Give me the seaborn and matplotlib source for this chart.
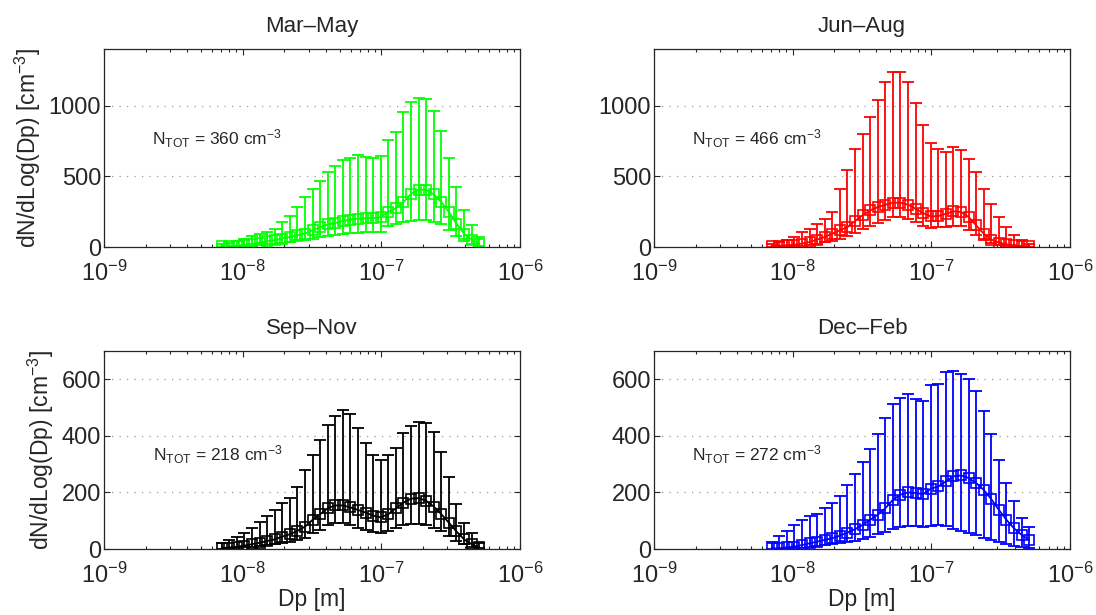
import numpy as np
import pandas as pd
import seaborn as sns
import matplotlib.pyplot as plt
from matplotlib.ticker import LogLocator, FixedLocator, NullFormatter

# particle diameter bins (nm)
dp_nm = [7.06, 8.01, 9.08, 10.29, 11.67, 13.24, 15.01, 17.02, 19.30, 21.89,
         24.82, 28.15, 31.92, 36.20, 41.05, 46.55, 52.79, 59.86, 67.88, 76.98,
         87.30, 99.00, 112.3, 127.3, 144.4, 163.7, 185.7, 210.6, 238.8, 270.8,
         307.1, 348.2, 394.9, 447.8, 507.8]

seasons = ["Mar–May", "Jun–Aug", "Sep–Nov", "Dec–Feb"]
colors = ["#00ff00", "#ff0000", "#000000", "#0000ff"]
ntot = [360, 466, 218, 272]

mam_mean = [5, 7, 10, 15, 22, 30, 40, 48, 60, 70, 82, 95, 118, 140, 160, 170, 185, 193, 200, 205,
            205, 212, 247, 275, 318, 376, 405, 405, 372, 318, 247, 165, 94, 52, 24]
mam_upper = [19, 28, 42, 54, 75, 94, 106, 129, 176, 219, 282, 353, 407, 464, 529, 576, 612, 631, 647, 635,
             628, 640, 758, 812, 953, 1024, 1054, 1047, 965, 819, 631, 424, 259, 153, 70]
mam_lower = [2, 3, 5, 7, 10, 14, 19, 23, 29, 34, 40, 47, 58, 70, 80, 85, 92, 97, 100, 103,
             103, 106, 150, 165, 175, 185, 190, 190, 178, 160, 120, 75, 40, 20, 8]

jja_mean = [7, 9, 12, 16, 24, 35, 52, 71, 94, 118, 141, 184, 224, 259, 282, 299, 313, 313, 299, 271,
            240, 216, 219, 235, 252, 247, 212, 153, 94, 52, 31, 19, 12, 7, 5]
jja_upper = [24, 35, 47, 70, 106, 130, 160, 200, 247, 412, 546, 694, 800, 918, 1040, 1165, 1240, 1235, 1165, 1016,
             866, 736, 694, 671, 706, 689, 624, 529, 412, 306, 212, 141, 82, 47, 24]
jja_lower = [2, 3, 5, 7, 10, 15, 22, 32, 45, 60, 75, 100, 125, 150, 170, 190, 212, 212, 200, 175,
             150, 135, 140, 141, 150, 145, 120, 85, 50, 25, 12, 6, 3, 2, 1]

son_mean = [2, 5, 8, 12, 17, 22, 28, 34, 44, 52, 64, 79, 103, 123, 144, 154, 154, 147, 138, 129,
            118, 112, 123, 144, 164, 178, 180, 170, 150, 123, 93, 62, 34, 17, 6]
son_upper = [22, 32, 44, 58, 73, 97, 117, 138, 162, 180, 219, 278, 334, 387, 440, 470, 491, 479, 428, 375,
             334, 316, 334, 357, 411, 434, 449, 444, 413, 343, 254, 159, 93, 56, 20]
son_lower = [1, 2, 4, 6, 8, 11, 14, 17, 22, 26, 32, 40, 55, 68, 85, 91, 91, 85, 75, 68,
             60, 58, 62, 75, 85, 89, 89, 85, 75, 62, 45, 30, 16, 8, 3]

djf_mean = [2, 2, 6, 8, 14, 20, 26, 32, 38, 47, 58, 70, 85, 103, 121, 144, 174, 192, 200, 198,
            194, 213, 221, 239, 257, 260, 251, 233, 209, 176, 138, 103, 73, 50, 32]
djf_upper = [25, 47, 65, 85, 101, 117, 124, 144, 162, 188, 227, 266, 307, 355, 405, 462, 512, 533, 547, 531,
             525, 580, 582, 624, 630, 618, 600, 559, 488, 408, 314, 233, 168, 109, 77]
djf_lower = [0, 0, 2, 3, 5, 8, 10, 13, 16, 20, 25, 30, 36, 44, 52, 60, 70, 78, 80, 80,
             78, 82, 85, 80, 72, 62, 55, 48, 40, 32, 25, 18, 12, 8, 5]

means = [mam_mean, jja_mean, son_mean, djf_mean]
uppers = [mam_upper, jja_upper, son_upper, djf_upper]
lowers = [mam_lower, jja_lower, son_lower, djf_lower]

sns.set_style("ticks")
plt.rcParams["font.family"] = ["Liberation Sans", "DejaVu Sans"]
plt.rcParams["mathtext.default"] = "regular"

fig = plt.figure(figsize=(10.96, 6.15), dpi=100)
lefts = [104 / 1096, 654 / 1096]
bottoms = [1 - 247 / 615, 1 - 549 / 615]
w, h = 416 / 1096, 198 / 615
text_x = [0.115, 0.091, 0.118, 0.091]

for k in range(4):
    row, col = k // 2, k % 2
    ax = fig.add_axes([lefts[col], bottoms[row], w, h])
    ax.set_xscale("log")
    c = colors[k]
    df = pd.DataFrame({"Dp": np.array(dp_nm) * 1e-9, "mean": means[k],
                       "upper": uppers[k], "lower": lowers[k]})
    ax.errorbar(df["Dp"], df["mean"],
                yerr=[df["mean"] - df["lower"], df["upper"] - df["mean"]],
                fmt="none", ecolor=c, elinewidth=1.3, capsize=4.5, capthick=1.3)
    sns.lineplot(data=df, x="Dp", y="mean", ax=ax, color=c, linewidth=1.3,
                 marker="s", markersize=7, markerfacecolor="none",
                 markeredgecolor=c, markeredgewidth=1.2)

    ax.set_xlim(1e-9, 1e-6)
    if row == 0:
        ax.set_ylim(0, 1400)
        ax.yaxis.set_major_locator(FixedLocator([0, 500, 1000]))
        ty = 0.545
    else:
        ax.set_ylim(0, 700)
        ax.yaxis.set_major_locator(FixedLocator([0, 200, 400, 600]))
        ty = 0.475
    ax.xaxis.set_major_locator(FixedLocator([1e-9, 1e-8, 1e-7, 1e-6]))
    ax.xaxis.set_minor_locator(LogLocator(base=10, subs=np.arange(2, 10), numticks=20))
    ax.xaxis.set_minor_formatter(NullFormatter())
    ax.yaxis.grid(True, linestyle=(0, (1, 5)), color="0.6", linewidth=0.9)
    ax.xaxis.grid(False)
    ax.tick_params(which="both", direction="in", top=True, right=True,
                   labelsize=17, width=0.8)
    ax.tick_params(axis="x", which="major", pad=10)
    ax.tick_params(axis="y", which="major", pad=2)
    ax.tick_params(which="major", length=4)
    ax.tick_params(which="minor", length=2.5)
    for sp in ax.spines.values():
        sp.set_linewidth(0.9)
        sp.set_color("0.15")

    ax.set_title(seasons[k], fontsize=16, pad=12)
    ax.text(text_x[k], ty, "N$_{TOT}$ = %d cm$^{-3}$" % ntot[k],
            transform=ax.transAxes, fontsize=12.5, va="center", ha="left")

    if col == 0:
        ax.set_ylabel("dN/dLog(Dp) [cm$^{-3}$]", fontsize=16.5, labelpad=4)
    else:
        ax.set_ylabel("")
    if row == 1:
        ax.set_xlabel("Dp [m]", fontsize=16.5, labelpad=0)
    else:
        ax.set_xlabel("")

fig.savefig("out.png", dpi=100)
